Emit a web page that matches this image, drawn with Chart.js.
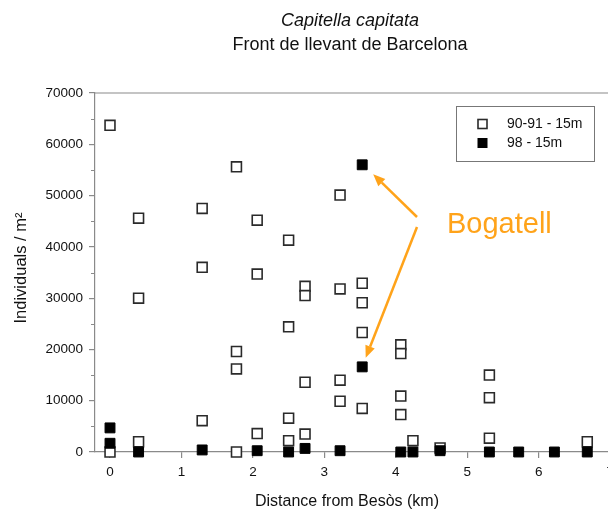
<!DOCTYPE html>
<html>
<head>
<meta charset="utf-8">
<script src="https://cdn.jsdelivr.net/npm/chart.js@4.4.1/dist/chart.umd.min.js"></script>
<style>
  html, body { margin: 0; padding: 0; background: #fff; overflow: hidden; width: 608px; height: 511px; }
  canvas { display: block; }
</style>
</head>
<body>
<canvas id="chart" width="640" height="511"></canvas>
<script>
// Capitella capitata - Front de llevant de Barcelona
const dist9091 = [0, 0, 0.4, 0.4, 0.4, 1.29, 1.29, 1.29, 1.77, 1.77, 1.77, 1.77,
  2.06, 2.06, 2.06, 2.5, 2.5, 2.5, 2.5, 2.73, 2.73, 2.73, 2.73,
  3.22, 3.22, 3.22, 3.22, 3.53, 3.53, 3.53, 3.53, 4.07, 4.07, 4.07, 4.07,
  4.24, 4.62, 5.31, 5.31, 5.31, 6.68];
const ind9091 = [63700, 0, 45600, 30000, 2000, 47500, 36000, 6100, 55600, 19600, 16200, 0,
  45200, 34700, 3600, 41300, 24400, 6600, 2200, 32300, 30500, 13600, 3500,
  50100, 31800, 14000, 9900, 32900, 29100, 23300, 8500, 20900, 19200, 10900, 7300,
  2200, 800, 15000, 10600, 2700, 2000];
const dist98 = [0, 0, 0.4, 1.29, 2.06, 2.5, 2.73, 3.22, 3.53, 3.53, 4.07, 4.24, 4.62, 5.31, 5.72, 6.22, 6.68];
const ind98 = [4700, 1700, 0, 400, 250, 0, 700, 250, 56000, 16600, 0, 0, 250, 0, 0, 0, 0];
const xTicks = [0, 1, 2, 3, 4, 5, 6, 7];
const yTicks = [0, 10000, 20000, 30000, 40000, 50000, 60000, 70000];
const seriesLabels = ['90-91 - 15m', '98 - 15m'];

const FONT = '"Liberation Sans", Arial, Helvetica, sans-serif';
const AXIS_GREY = '#8a8a8a';
const ORANGE = '#FFA31A';

const toPoints = (xs, ys) => xs.map((x, i) => ({ x: x, y: ys[i] }));

function arrow(ctx, x1, y1, x2, y2) {
    const ang = Math.atan2(y2 - y1, x2 - x1);
    const len = 12, half = 5;
    const bx = x2 - len * Math.cos(ang), by = y2 - len * Math.sin(ang);
    ctx.beginPath();
    ctx.moveTo(x1, y1);
    ctx.lineTo(bx, by);
    ctx.stroke();
    ctx.beginPath();
    ctx.moveTo(x2, y2);
    ctx.lineTo(bx + half * Math.sin(ang), by - half * Math.cos(ang));
    ctx.lineTo(bx - half * Math.sin(ang), by + half * Math.cos(ang));
    ctx.closePath();
    ctx.fill();
}

const decor = {
    id: 'decor',
    afterDraw(chart) {
        const ctx = chart.ctx;
        const area = chart.chartArea;
        const xs = chart.scales.x, ys = chart.scales.y;
        ctx.save();

        // top frame line and minor y ticks
        ctx.strokeStyle = AXIS_GREY;
        ctx.lineWidth = 1.2;
        ctx.beginPath();
        ctx.moveTo(area.left, area.top);
        ctx.lineTo(area.right, area.top);
        for (let v = 5000; v < 70000; v += 10000) {
            const y = Math.round(ys.getPixelForValue(v)) + 0.5;
            ctx.moveTo(area.left - 4, y);
            ctx.lineTo(area.left, y);
        }
        ctx.stroke();

        // titles
        ctx.fillStyle = '#111';
        ctx.textAlign = 'center';
        ctx.textBaseline = 'middle';
        ctx.font = 'italic 18px ' + FONT;
        ctx.fillText('Capitella capitata', 350, 21);
        ctx.font = '18px ' + FONT;
        ctx.fillText('Front de llevant de Barcelona', 350, 45);

        ctx.font = '16px ' + FONT;
        ctx.fillText('Distance from Besòs (km)', 347, 502);
        ctx.save();
        ctx.translate(21, 268);
        ctx.rotate(-Math.PI / 2);
        ctx.font = '16.5px ' + FONT;
        ctx.fillText('Individuals / m²', 0, 0);
        ctx.restore();

        // legend box
        ctx.strokeStyle = '#777';
        ctx.lineWidth = 1;
        ctx.strokeRect(456.5, 106.5, 138, 55);
        const sets = chart.data.datasets;
        const rows = [124, 143];
        ctx.textAlign = 'left';
        ctx.font = '14px ' + FONT;
        sets.forEach((ds, i) => {
            ctx.fillStyle = ds.backgroundColor;
            ctx.strokeStyle = ds.borderColor;
            ctx.lineWidth = ds.borderWidth;
            ctx.fillRect(478, rows[i] - 4.5, 9, 9);
            ctx.strokeRect(478, rows[i] - 4.5, 9, 9);
            ctx.fillStyle = '#111';
            ctx.fillText(ds.label, 507, rows[i] + 0.5);
        });

        // Bogatell annotation
        ctx.fillStyle = ORANGE;
        ctx.strokeStyle = ORANGE;
        ctx.lineWidth = 2.5;
        ctx.font = '29px ' + FONT;
        ctx.textBaseline = 'alphabetic';
        ctx.fillText('Bogatell', 447, 233);
        const px = xs.getPixelForValue(3.53);
        arrow(ctx, 417, 217, px + 11, ys.getPixelForValue(56000) + 9.5);
        arrow(ctx, 417, 227, px + 3.5, ys.getPixelForValue(16600) - 9);

        ctx.restore();
    }
};

const tickFont = { family: FONT, size: 13.5 };

new Chart(document.getElementById('chart').getContext('2d'), {
    type: 'scatter',
    data: {
        datasets: [
            {
                label: seriesLabels[0],
                data: toPoints(dist9091, ind9091),
                pointStyle: 'rect',
                pointRadius: 7,
                backgroundColor: '#fff',
                borderColor: '#2a2a2a',
                borderWidth: 1.6,
                clip: false,
                order: 2
            },
            {
                label: seriesLabels[1],
                data: toPoints(dist98, ind98),
                pointStyle: 'rect',
                pointRadius: 7,
                backgroundColor: '#000',
                borderColor: '#000',
                borderWidth: 1,
                clip: false,
                order: 1
            }
        ]
    },
    options: {
        responsive: false,
        animation: false,
        events: [],
        layout: { padding: { top: 93, right: 12, left: 0, bottom: 0 } },
        plugins: {
            legend: { display: false },
            tooltip: { enabled: false }
        },
        scales: {
            x: {
                type: 'linear',
                min: -0.21,
                max: 7.25,
                afterFit: (s) => { s.height = 59; },
                afterBuildTicks: (s) => { s.ticks = xTicks.map(v => ({ value: v })); },
                grid: { drawOnChartArea: false, tickLength: 6, color: AXIS_GREY, lineWidth: 1.2 },
                border: { color: AXIS_GREY, width: 1.2 },
                ticks: { padding: 6, color: '#111', font: tickFont, maxRotation: 0 }
            },
            y: {
                min: 0,
                max: 70000,
                afterFit: (s) => { s.width = 95; },
                afterBuildTicks: (s) => { s.ticks = yTicks.map(v => ({ value: v })); },
                grid: { drawOnChartArea: false, tickLength: 6, color: AXIS_GREY, lineWidth: 1.2 },
                border: { color: AXIS_GREY, width: 1.2 },
                ticks: { padding: 6, color: '#111', font: tickFont, callback: (v) => String(v) }
            }
        }
    },
    plugins: [decor]
});
</script>
</body>
</html>
